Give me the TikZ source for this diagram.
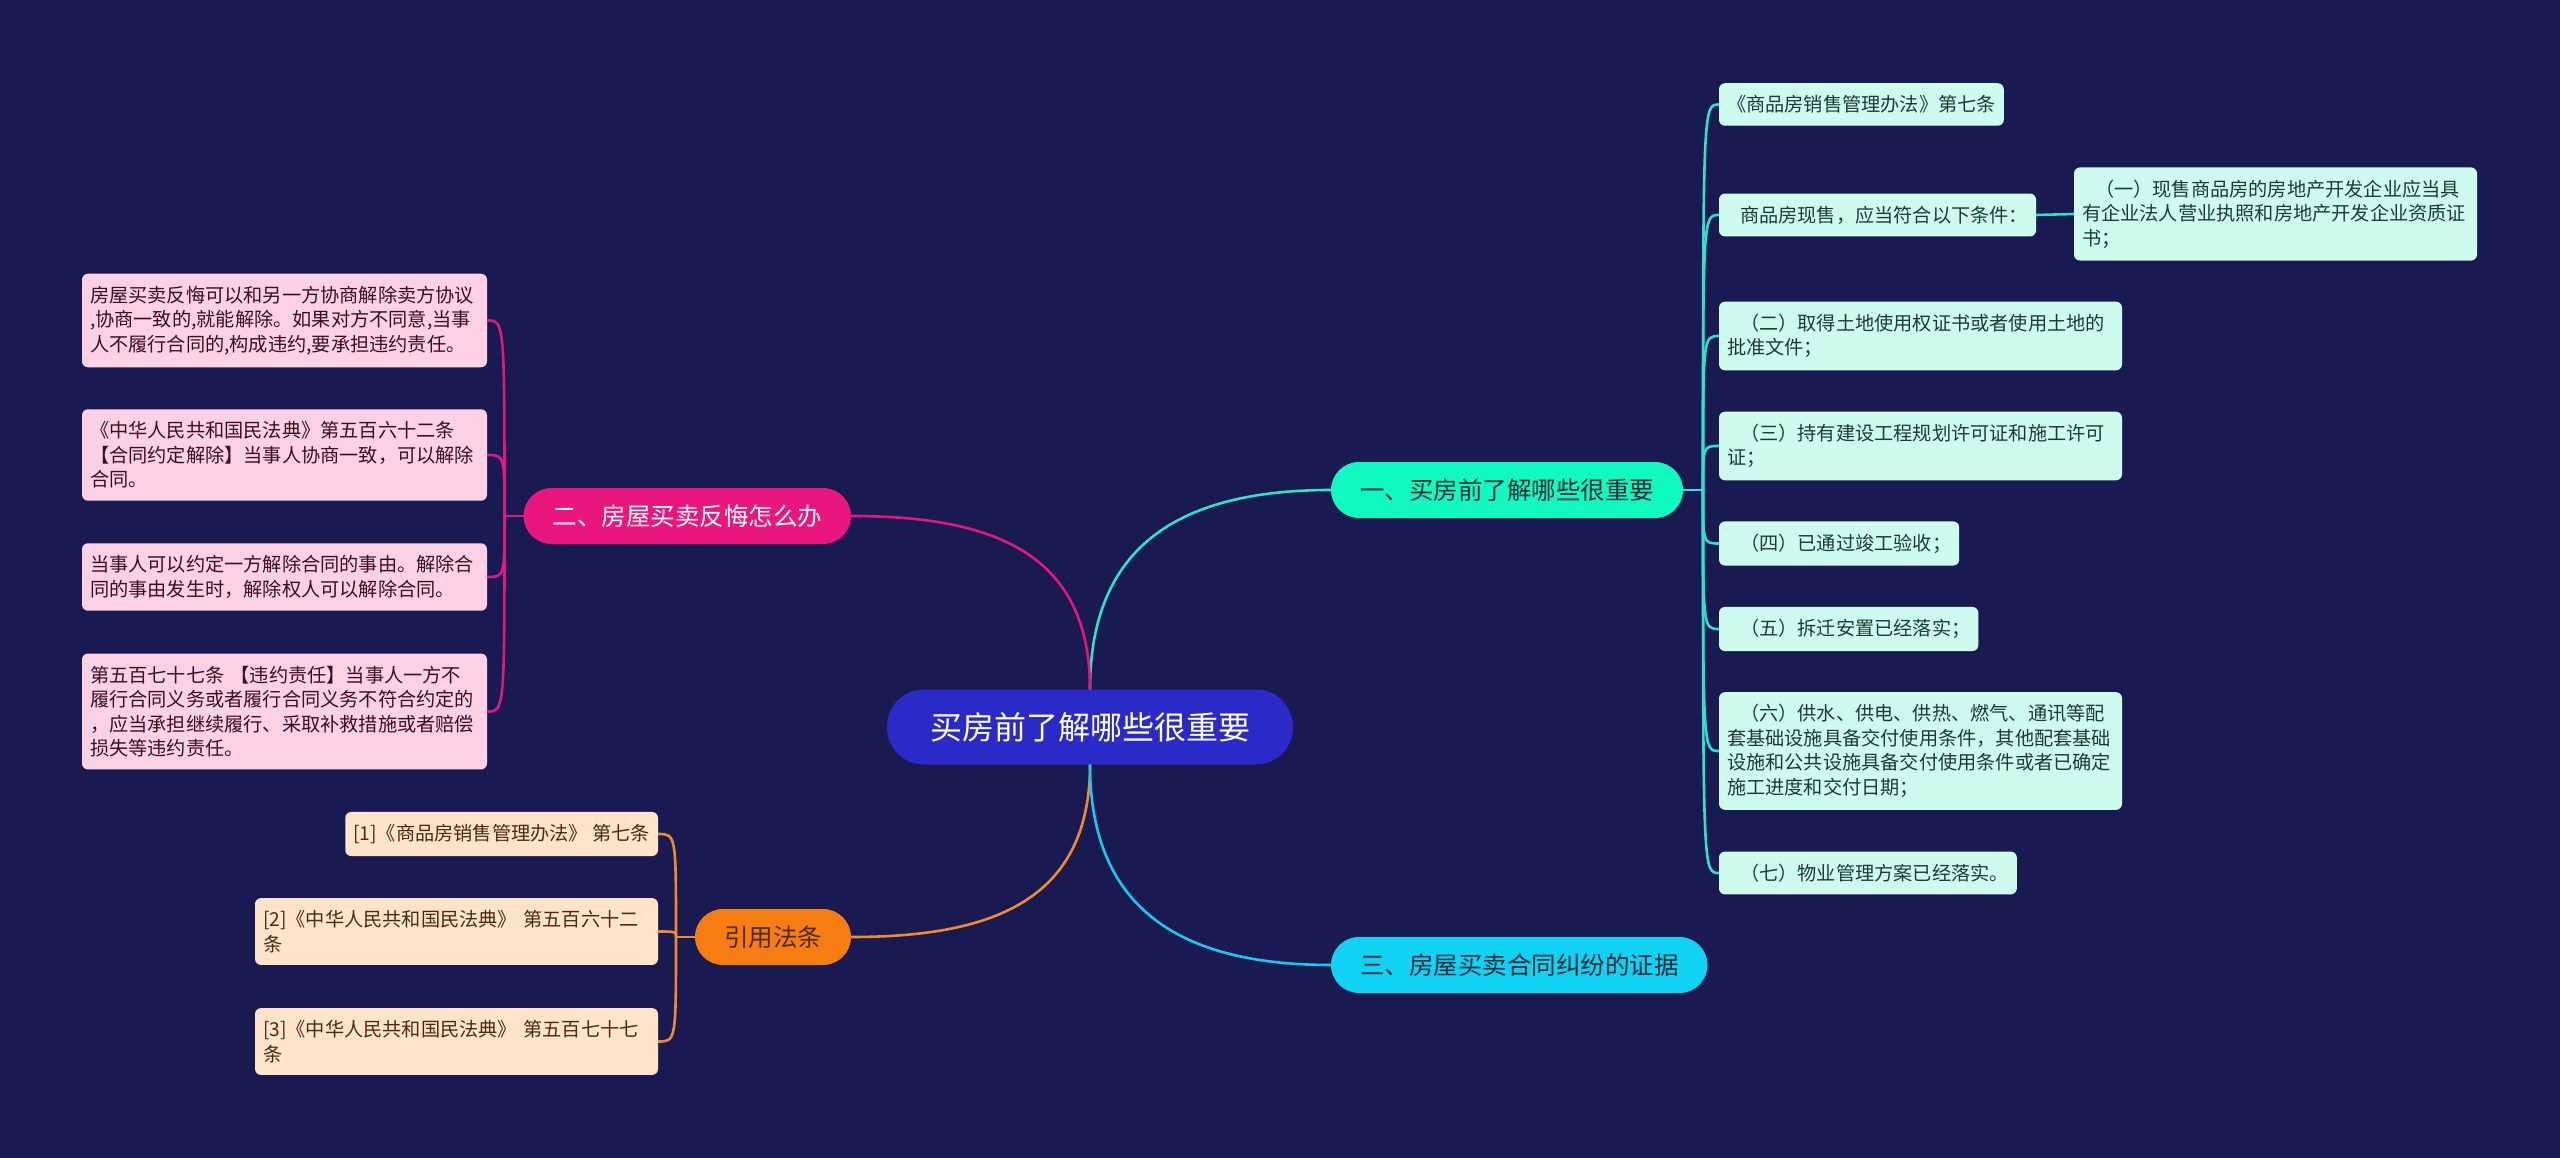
\documentclass[tikz,border=0pt]{standalone}
\usepackage{fontspec}
\setmainfont{Noto Sans CJK SC}

\definecolor{bg}{HTML}{1A1A52}
\definecolor{rootc}{HTML}{2A2AC8}
\definecolor{bonec}{HTML}{10FAC0}
\definecolor{bthreec}{HTML}{10D2F2}
\definecolor{btwoc}{HTML}{E8167D}
\definecolor{bfourc}{HTML}{F67D12}
\definecolor{mintl}{HTML}{CDFCEF}
\definecolor{pinkl}{HTML}{FFD1E5}
\definecolor{orgl}{HTML}{FFE4CA}
\definecolor{mintt}{HTML}{1E3A34}
\definecolor{pinkt}{HTML}{3A0E22}
\definecolor{orgt}{HTML}{4A2A12}
\definecolor{topict}{HTML}{1E2A3A}
\definecolor{tealc}{HTML}{30E0C8}
\definecolor{pinkc}{HTML}{E0187E}
\definecolor{orgc}{HTML}{F08A2E}
\definecolor{cyanc}{HTML}{18C8EE}

\begin{document}
\begin{tikzpicture}[x=1pt,y=-1pt,
    every node/.style={outer sep=0pt},
    root/.style={fill=rootc,text=white,rounded corners=37pt,minimum width=406pt,minimum height=75pt,font=\fontsize{32}{38}\selectfont},
    topic/.style={rounded corners=28pt,minimum height=56pt,inner xsep=29pt,font=\fontsize{24.5}{30}\selectfont},
    leafbox/.style={rounded corners=6pt,inner xsep=8pt,inner ysep=12.3pt,align=left,font=\fontsize{19.2}{24.5}\selectfont},
    rleaf/.style={leafbox,fill=mintl,text=mintt,anchor=west},
    pleaf/.style={leafbox,fill=pinkl,text=pinkt,anchor=east},
    oleaf/.style={leafbox,fill=orgl,text=orgt,anchor=east},
    tline/.style={tealc,line width=2.6pt},
    pline/.style={pinkc,line width=2.6pt},
    oline/.style={orgc,line width=2.6pt},
    cline/.style={cyanc,line width=2.6pt}]
    \fill[bg] (0,0) rectangle (2560,1158);

    \node[root] (c) at (1090,727) {买房前了解哪些很重要};

    \node[topic,fill=bonec,text=topict,anchor=west] (b1) at (1331,490) {一、买房前了解哪些很重要};
    \node[topic,fill=bthreec,text=topict,anchor=west] (b3) at (1331,965) {三、房屋买卖合同纠纷的证据};
    \node[topic,fill=btwoc,text=white,anchor=east] (b2) at (851,516) {二、房屋买卖反悔怎么办};
    \node[topic,fill=bfourc,text=orgt,anchor=east] (b4) at (851,937) {引用法条};

    % right side
    \node[rleaf] (r1) at (1719,104.5) {《商品房销售管理办法》第七条};
    \node[rleaf] (r2) at (1719,215) {\hspace*{13pt}商品房现售，应当符合以下条件：};
    \node[rleaf,text width=387pt] (r2a) at (2074,214) {\hspace*{13pt}（一）现售商品房的房地产开发企业应当具\\有企业法人营业执照和房地产开发企业资质证\\书；};
    \node[rleaf,text width=387pt] (r3) at (1719,336) {\hspace*{13pt}（二）取得土地使用权证书或者使用土地的\\批准文件；};
    \node[rleaf,text width=387pt] (r4) at (1719,446) {\hspace*{13pt}（三）持有建设工程规划许可证和施工许可\\证；};
    \node[rleaf] (r5) at (1719,543.5) {\hspace*{13pt}（四）已通过竣工验收；};
    \node[rleaf] (r6) at (1719,629) {\hspace*{13pt}（五）拆迁安置已经落实；};
    \node[rleaf,text width=387pt] (r7) at (1719,751) {\hspace*{13pt}（六）供水、供电、供热、燃气、通讯等配\\套基础设施具备交付使用条件，其他配套基础\\设施和公共设施具备交付使用条件或者已确定\\施工进度和交付日期；};
    \node[rleaf] (r8) at (1719,873) {\hspace*{13pt}（七）物业管理方案已经落实。};

    % left side
    \node[pleaf,text width=389pt] (l1) at (487,320.5) {房屋买卖反悔可以和另一方协商解除卖方协议\\,协商一致的,就能解除。如果对方不同意,当事\\人不履行合同的,构成违约,要承担违约责任。};
    \node[pleaf,text width=389pt] (l2) at (487,455) {《中华人民共和国民法典》第五百六十二条\\【合同约定解除】当事人协商一致，可以解除\\合同。};
    \node[pleaf,text width=389pt] (l3) at (487,577) {当事人可以约定一方解除合同的事由。解除合\\同的事由发生时，解除权人可以解除合同。};
    \node[pleaf,text width=389pt] (l4) at (487,711.5) {第五百七十七条~【违约责任】当事人一方不\\履行合同义务或者履行合同义务不符合约定的\\，应当承担继续履行、采取补救措施或者赔偿\\损失等违约责任。};

    \node[oleaf] (f1) at (658,834) {[1]《商品房销售管理办法》~第七条};
    \node[oleaf,text width=387pt] (f2) at (658,931.5) {[2]《中华人民共和国民法典》~第五百六十二\\条};
    \node[oleaf,text width=387pt] (f3) at (658,1041.5) {[3]《中华人民共和国民法典》~第五百七十七\\条};

    \draw[tline] (c.north) to[out=90,in=180,looseness=1.2] (b1.west);
    \draw[pline] (c.north) to[out=90,in=0,looseness=1.2] (b2.east);
    \draw[oline] (c.south) to[out=-90,in=0,looseness=1.2] (b4.east);
    \draw[cline] (c.south) to[out=-90,in=180,looseness=1.2] (b3.west);

    \coordinate (j1) at ([xshift=20pt]b1.east);
    \draw[tline] (b1.east) -- (j1);
    \foreach \n in {r1,r2,r3,r4,r5,r6,r7,r8}
        \draw[tline] (j1) .. controls (j1 |- \n.west) .. (\n.west);
    \draw[tline] (r2.east) -- (r2a.west);

    \coordinate (j2) at ([xshift=-19pt]b2.west);
    \draw[pline] (b2.west) -- (j2);
    \foreach \n in {l1,l2,l3,l4}
        \draw[pline] (j2) .. controls (j2 |- \n.east) .. (\n.east);

    \coordinate (j4) at ([xshift=-19pt]b4.west);
    \draw[oline] (b4.west) -- (j4);
    \foreach \n in {f1,f2,f3}
        \draw[oline] (j4) .. controls (j4 |- \n.east) .. (\n.east);
\end{tikzpicture}
\end{document}
